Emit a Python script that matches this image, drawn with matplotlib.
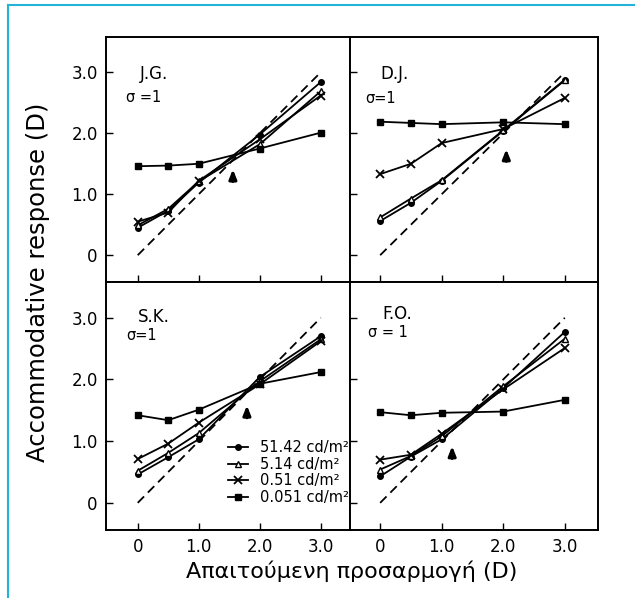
import matplotlib
matplotlib.use("Agg")
import matplotlib.pyplot as plt
from matplotlib.lines import Line2D

# accommodative demand (D)
x_demand = [0, 0.5, 1.0, 2.0, 3.0]
tick_vals = [0, 1, 2, 3]
tick_labels = ["0", "1.0", "2.0", "3.0"]

series_labels = ["51.42 cd/m²", "5.14 cd/m²", "0.51 cd/m²", "0.051 cd/m²"]

# responses (D) per subject, series order as series_labels
jg_5142 = [0.45, 0.73, 1.19, 1.98, 2.84]
jg_514 = [0.49, 0.76, 1.21, 1.82, 2.69]
jg_051 = [0.55, 0.70, 1.22, 1.90, 2.62]
jg_0051 = [1.46, 1.47, 1.50, 1.75, 2.01]

dj_5142 = [0.56, 0.86, 1.22, 2.04, 2.87]
dj_514 = [0.62, 0.93, 1.23, 2.05, 2.88]
dj_051 = [1.33, 1.50, 1.84, 2.07, 2.58]
dj_0051 = [2.19, 2.17, 2.15, 2.18, 2.15]

sk_5142 = [0.46, 0.74, 1.03, 2.04, 2.70]
sk_514 = [0.52, 0.81, 1.13, 1.97, 2.65]
sk_051 = [0.71, 0.96, 1.30, 1.92, 2.62]
sk_0051 = [1.42, 1.34, 1.51, 1.93, 2.12]

fo_5142 = [0.43, 0.75, 1.03, 1.86, 2.77]
fo_514 = [0.54, 0.76, 1.08, 1.89, 2.66]
fo_051 = [0.70, 0.78, 1.12, 1.84, 2.51]
fo_0051 = [1.47, 1.42, 1.46, 1.48, 1.67]

# subject names, sigma text and arrow (x, y)
names = ["J.G.", "D.J.", "S.K.", "F.O."]
sigma_txt = ["σ =1", "σ=1", "σ=1", "σ = 1"]
arrows = [(1.56, 1.30), (2.05, 1.63), (1.79, 1.47), (1.17, 0.81)]

panel_data = [
    [jg_5142, jg_514, jg_051, jg_0051],
    [dj_5142, dj_514, dj_051, dj_0051],
    [sk_5142, sk_514, sk_051, sk_0051],
    [fo_5142, fo_514, fo_051, fo_0051],
]

styles = [
    dict(marker="o", ms=4, mfc="black"),
    dict(marker="^", ms=5, mfc="white"),
    dict(marker="x", ms=6, mew=1.3),
    dict(marker="s", ms=4, mfc="black"),
]

fig = plt.figure(figsize=(6.35, 5.98), dpi=100)
W, H = 635, 598

def px_axes(x0, y0, x1, y1):
    return fig.add_axes([x0 / W, 1 - y1 / H, (x1 - x0) / W, (y1 - y0) / H])

boxes = [(106, 37, 350, 282), (350, 37, 598, 282),
         (106, 282, 350, 530), (350, 282, 598, 530)]
text_pos = [((0.03, 2.97), (-0.2, 2.58)), ((0.0, 2.97), (-0.25, 2.57)),
            ((0.0, 3.01), (-0.18, 2.72)), ((0.03, 3.06), (-0.2, 2.76))]

for i, box in enumerate(boxes):
    ax = px_axes(*box)
    col = i % 2
    row = i // 2
    ax.plot([0, 3], [0, 3], color="black", ls=(0, (5, 3)), lw=1.3)
    for ys, st, lab in zip(panel_data[i], styles, series_labels):
        ax.plot(x_demand, ys, color="black", lw=1.3, mec="black", label=lab, **st)
    ax.annotate("", xy=(arrows[i][0], arrows[i][1] + 0.11),
                xytext=(arrows[i][0], arrows[i][1] - 0.09),
                arrowprops=dict(arrowstyle="-|>,head_length=0.55,head_width=0.22",
                                color="black", lw=2.2,
                                mutation_scale=10, shrinkA=0, shrinkB=0))
    ax.text(*text_pos[i][0], names[i], fontsize=12, va="center", ha="left")
    ax.text(*text_pos[i][1], sigma_txt[i], fontsize=10.5, va="center", ha="left")
    if col == 0:
        ax.set_xlim(-0.52, 3.48)
    else:
        ax.set_xlim(-0.49, 3.54)
    ax.set_ylim(-0.44, 3.58)
    ax.set_xticks(tick_vals)
    ax.set_yticks(tick_vals)
    ax.tick_params(direction="in", length=5, width=1, labelsize=12, pad=6)
    if row == 0:
        ax.set_xticklabels([])
    else:
        ax.set_xticklabels(tick_labels)
    if col == 1:
        ax.set_yticklabels([])
    else:
        ax.set_yticklabels(tick_labels)
    for sp in ax.spines.values():
        sp.set_linewidth(1.4)
    if i == 2:
        ax.legend(loc="lower right", bbox_to_anchor=(0.995, 0.10), frameon=False,
                  fontsize=10.5, handlelength=1.4, handletextpad=0.8,
                  labelspacing=0.12, borderpad=0, borderaxespad=0)

fig.text(38 / W, 1 - 282 / H, "Accommodative response (D)", rotation=90,
         fontsize=17.5, ha="center", va="center")
fig.text(352 / W, 1 - 571 / H, "Απαιτούμενη προσαρμογή (D)",
         fontsize=16, ha="center", va="center")

# light blue frame edges
frame_col = "#22b4d8"
fig.add_artist(Line2D([8 / W, 8 / W], [0, 1 - 5 / H], color=frame_col, lw=1.5))
fig.add_artist(Line2D([8 / W, 1], [1 - 5 / H, 1 - 5 / H], color=frame_col, lw=1.5))

fig.savefig("out.png", dpi=100)
